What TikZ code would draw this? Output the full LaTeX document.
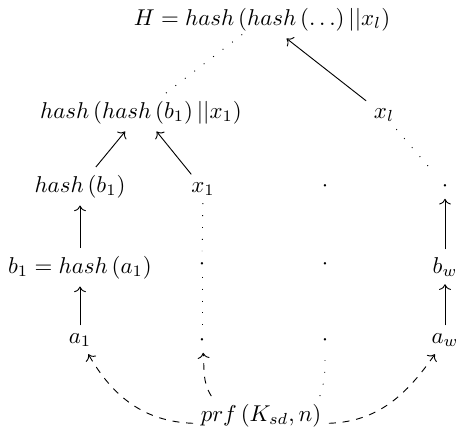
\documentclass[tikz,border=0pt]{standalone}
\usetikzlibrary{cd}
\begin{document}
\begin{tikzpicture}[x=0.437pt,y=-0.437pt,
  lbl/.style={anchor=base, inner sep=3.4pt, outer sep=0pt},
  ar/.style={-{cm to}, line width=0.4pt},
  dsh/.style={-{cm to}, line width=0.4pt, dashed},
  dotline/.style={line width=0.4pt, dash pattern=on 0.4pt off 4.8pt}]
\useasboundingbox (0,0) rectangle (458,434);
% row 1
\node[lbl] (H) at (262,25) {$H = hash\left(hash\left(\dots\right)||x_l\right)$};
% row 2
\node[lbl] (big) at (141,118) {$hash\left(hash\left(b_1\right)||x_1\right)$};
\node[lbl] (xl) at (384,118) {$x_l$};
% row 3
\node[lbl] (hb1) at (80,192) {$hash\left(b_1\right)$};
\node[lbl] (x1) at (203,192) {$x_1$};
\node[lbl] (c3r3) at (325,191) {$\cdot$};
\node[lbl] (c4r3) at (445,191) {$\cdot$};
% row 4
\node[lbl] (b1) at (80,273) {$b_1 = hash\left(a_1\right)$};
\node[lbl] (c2r4) at (202,269) {$\cdot$};
\node[lbl] (c3r4) at (325,269) {$\cdot$};
\node[lbl] (bw) at (445,273) {$b_w$};
% row 5
\node[lbl] (a1) at (80,343) {$a_1$};
\node[lbl] (c2r5) at (202,345) {$\cdot$};
\node[lbl] (c3r5) at (325,345) {$\cdot$};
\node[lbl] (aw) at (445,343) {$a_w$};
% row 6
\node[lbl] (prf) at (261,421) {$prf\left(K_{sd}, n\right)$};
% solid arrows
\draw[ar] (hb1) -- (big);
\draw[ar] (x1) -- (big);
\draw[ar] (xl) -- (H);
\draw[ar] (a1) -- (b1);
\draw[ar] (b1) -- (hb1);
\draw[ar] (aw) -- (bw);
\draw[ar] (bw) -- (c4r3);
% dotted lines
\draw[dotline, shorten >=-3pt] (big) -- (H);
\draw[dotline] (xl) -- (c4r3);
\draw[dotline] (x1) -- (c2r4);
\draw[dotline] (c2r4) -- (c2r5);
\draw[dotline] ([xshift=-4pt]prf.north east) to[out=70, in=-90] (c3r5);
% dashed arrows
\draw[dsh] ([yshift=-3.5pt]prf.west) to[out=178, in=-60] (a1);
\draw[dsh] ([xshift=8pt]prf.north west) to[out=122, in=-85] (c2r5);
\draw[dsh] ([yshift=-3.5pt]prf.east) to[out=2, in=-125] (aw);
\end{tikzpicture}
\end{document}
